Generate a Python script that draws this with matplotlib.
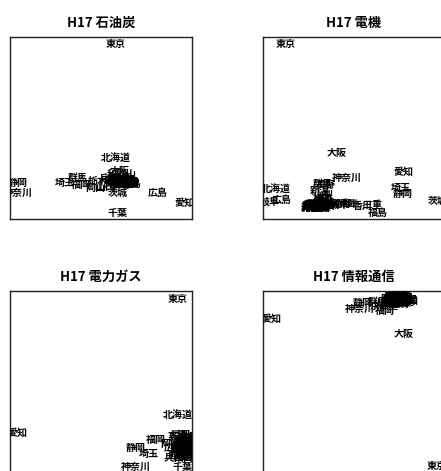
import matplotlib
matplotlib.use('Agg')

import matplotlib.pyplot as plt

plt.rcParams['font.family'] = ['Noto Sans CJK JP', 'DejaVu Sans']

# prefecture labels, same order in every panel
PREFS = ["北海道", "青森", "岩手", "宮城", "秋田", "山形", "福島", "茨城", "栃木", "群馬",
         "埼玉", "千葉", "東京", "神奈川", "新潟", "富山", "石川", "福井", "山梨", "長野",
         "岐阜", "静岡", "愛知", "三重", "滋賀", "京都", "大阪", "兵庫", "奈良", "和歌山",
         "鳥取", "島根", "岡山", "広島", "山口", "徳島", "香川", "愛媛", "高知", "福岡",
         "佐賀", "長崎", "熊本", "大分", "宮崎", "鹿児島", "沖縄"]

TITLES = ["H17 石油炭", "H17 電機", "H17 電力ガス", "H17 情報通信"]

# ---------- 石油炭 ----------
oil_x = [0.58, 0.62, 0.64, 0.60, 0.66, 0.63, 0.61, 0.59, 0.48, 0.37,
         0.30, 0.59, 0.58, 0.045, 0.62, 0.65, 0.63, 0.60, 0.64, 0.58,
         0.61, 0.04, 0.96, 0.57, 0.62, 0.65, 0.60, 0.54, 0.63, 0.615,
         0.61, 0.64, 0.47, 0.81, 0.52, 0.67, 0.62, 0.65, 0.60, 0.39,
         0.63, 0.61, 0.59, 0.64, 0.62, 0.60, 0.57]
oil_y = [0.335, 0.205, 0.21, 0.22, 0.20, 0.19, 0.195, 0.145, 0.21, 0.225,
         0.20, 0.035, 0.96, 0.145, 0.225, 0.215, 0.20, 0.205, 0.195, 0.20,
         0.215, 0.20, 0.09, 0.21, 0.19, 0.205, 0.265, 0.22, 0.215, 0.245,
         0.205, 0.20, 0.17, 0.145, 0.175, 0.195, 0.21, 0.19, 0.195, 0.185,
         0.205, 0.185, 0.21, 0.21, 0.195, 0.215, 0.195]

# ---------- 電機 ----------
elec_x = [0.07, 0.30, 0.29, 0.33, 0.28, 0.31, 0.63, 0.96, 0.42, 0.33,
          0.755, 0.30, 0.125, 0.46, 0.31, 0.33, 0.29, 0.27, 0.33, 0.345,
          0.035, 0.77, 0.77, 0.60, 0.38, 0.44, 0.405, 0.47, 0.28, 0.29,
          0.30, 0.26, 0.36, 0.105, 0.34, 0.31, 0.55, 0.32, 0.27, 0.33,
          0.29, 0.31, 0.32, 0.35, 0.28, 0.30, 0.26]
elec_y = [0.165, 0.07, 0.065, 0.08, 0.06, 0.075, 0.033, 0.10, 0.075, 0.19,
          0.17, 0.085, 0.96, 0.225, 0.155, 0.10, 0.07, 0.065, 0.13, 0.185,
          0.09, 0.14, 0.26, 0.075, 0.08, 0.085, 0.36, 0.08, 0.07, 0.06,
          0.06, 0.07, 0.09, 0.105, 0.07, 0.06, 0.07, 0.065, 0.075, 0.11,
          0.08, 0.07, 0.085, 0.075, 0.08, 0.075, 0.06]

# ---------- 電力ガス ----------
power_x = [0.92, 0.97, 1.00, 0.95, 0.98, 1.02, 0.96, 0.99, 0.94, 0.97,
           0.76, 0.95, 0.92, 0.69, 0.93, 1.01, 0.99, 0.96, 0.98, 0.93,
           0.95, 0.69, 0.04, 0.97, 1.00, 0.94, 0.92, 0.90, 1.02, 0.99,
           0.97, 1.00, 0.88, 0.90, 0.95, 1.01, 0.98, 0.96, 1.02, 0.80,
           0.99, 0.97, 0.94, 1.00, 0.98, 0.95, 0.93]
power_y = [0.32, 0.15, 0.16, 0.12, 0.18, 0.14, 0.17, 0.11, 0.15, 0.13,
           0.105, 0.035, 0.955, 0.035, 0.19, 0.12, 0.15, 0.10, 0.09, 0.13,
           0.16, 0.135, 0.22, 0.17, 0.19, 0.21, 0.21, 0.08, 0.17, 0.13,
           0.11, 0.10, 0.16, 0.14, 0.08, 0.15, 0.16, 0.14, 0.11, 0.18,
           0.20, 0.19, 0.12, 0.13, 0.12, 0.10, 0.17]

# ---------- 情報通信 ----------
info_x = [0.74, 0.72, 0.76, 0.73, 0.75, 0.71, 0.77, 0.74, 0.73, 0.63,
          0.70, 0.72, 0.955, 0.53, 0.75, 0.78, 0.76, 0.74, 0.66, 0.71,
          0.73, 0.55, 0.045, 0.69, 0.75, 0.64, 0.77, 0.72, 0.77, 0.74,
          0.76, 0.79, 0.70, 0.72, 0.75, 0.78, 0.73, 0.76, 0.80, 0.67,
          0.74, 0.71, 0.77, 0.72, 0.75, 0.73, 0.78]
info_y = [0.95, 0.96, 0.955, 0.945, 0.965, 0.95, 0.945, 0.935, 0.96, 0.94,
          0.94, 0.93, 0.04, 0.90, 0.95, 0.955, 0.94, 0.965, 0.935, 0.94,
          0.95, 0.935, 0.85, 0.92, 0.96, 0.92, 0.765, 0.945, 0.96, 0.955,
          0.97, 0.95, 0.955, 0.94, 0.94, 0.965, 0.965, 0.935, 0.945, 0.89,
          0.945, 0.965, 0.95, 0.955, 0.93, 0.94, 0.94]

panels = [(oil_x, oil_y), (elec_x, elec_y), (power_x, power_y), (info_x, info_y)]

W, H = 441, 471
fig = plt.figure(figsize=(W / 100, H / 100), dpi=100)

# axes boxes in pixels: left, top
boxes = [(10, 37), (263, 37), (10, 291), (263, 291)]
aw, ah = 182, 182

for (xs, ys), title, (left, top) in zip(panels, TITLES, boxes):
    ax = fig.add_axes([left / W, (H - top - ah) / H, aw / W, ah / H])
    for name, x, y in zip(PREFS, xs, ys):
        ax.text(x, y, name, ha="center", va="center", fontsize=7.2,
                fontweight="bold", color="black", clip_on=True)
    ax.set_xlim(0, 1)
    ax.set_ylim(0, 1)
    ax.set_xticks([])
    ax.set_yticks([])
    for s in ax.spines.values():
        s.set_linewidth(1.0)
        s.set_color("#222222")
    ax.set_title(title, fontsize=9.5, fontweight="bold", pad=7)

fig.savefig("out.png", dpi=100)
